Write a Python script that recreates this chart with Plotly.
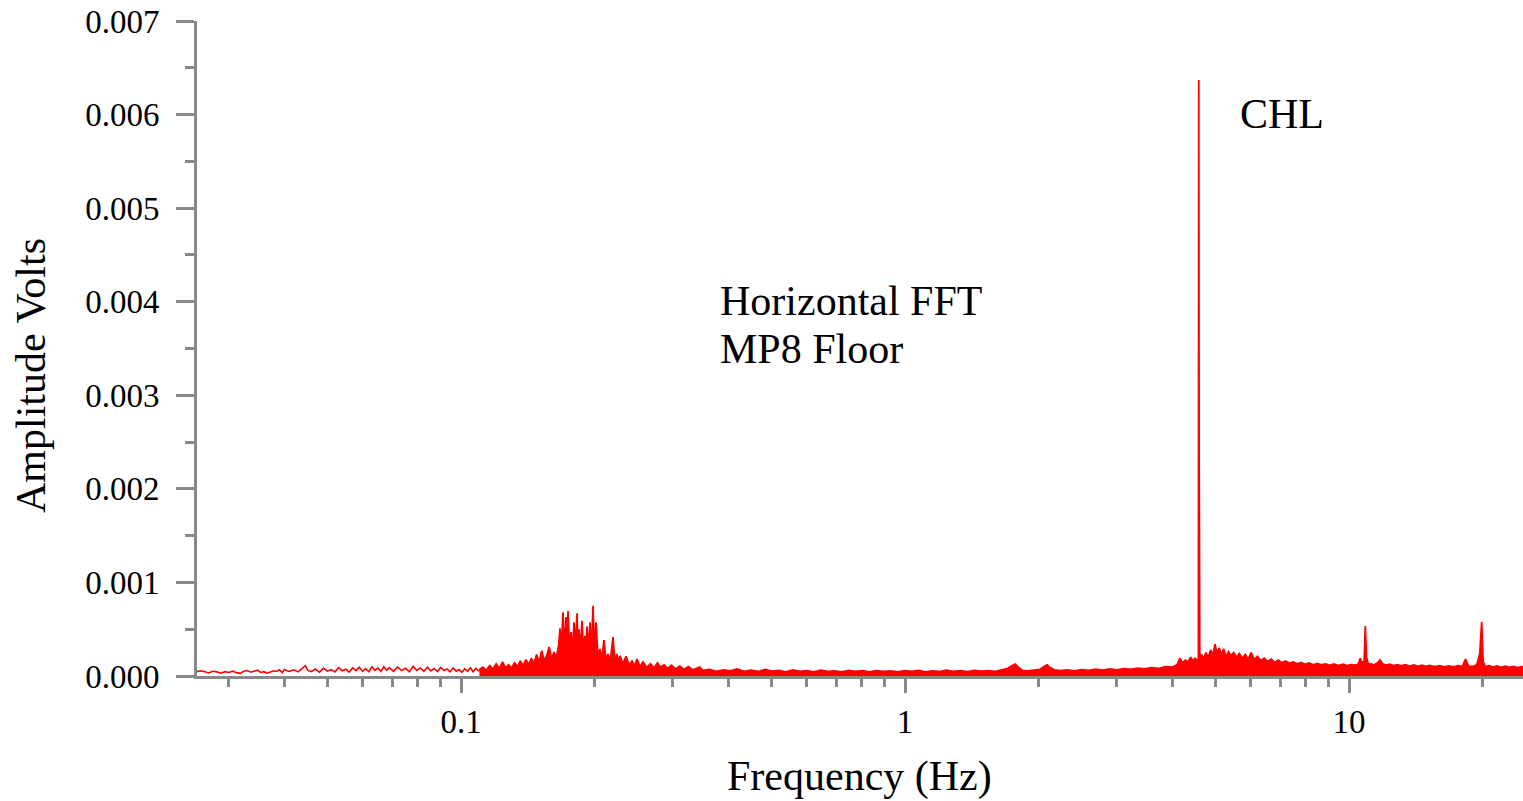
import plotly.graph_objects as go

# ---------------- data (amplitudes in microvolts) ----------------
low_freq = [0.0252, 0.0258, 0.0264, 0.0270, 0.0276, 0.0282, 0.0288, 0.0294, 0.0300, 0.0306,
            0.0312, 0.0318, 0.0324, 0.0330, 0.0336, 0.0342, 0.0348, 0.0354, 0.0360, 0.0366,
            0.0372, 0.0378, 0.0384, 0.0390, 0.0396,
            0.0400, 0.0410, 0.0420, 0.0430, 0.0440, 0.0446, 0.0452, 0.0460, 0.0470, 0.0480,
            0.0490, 0.0500, 0.0510, 0.0520, 0.0530, 0.0540, 0.0550, 0.0560, 0.0570, 0.0580,
            0.0590, 0.0600, 0.0610, 0.0620, 0.0630, 0.0640, 0.0650, 0.0660, 0.0670, 0.0680,
            0.0690,
            0.0705, 0.0720, 0.0735, 0.0750, 0.0765, 0.0780, 0.0795, 0.0810, 0.0825, 0.0840,
            0.0855, 0.0870, 0.0885, 0.0900, 0.0915, 0.0930, 0.0945, 0.0960, 0.0975, 0.0990,
            0.1005, 0.1020, 0.1035, 0.1050, 0.1065, 0.1080, 0.1095, 0.1110]
low_amp_uv = [40, 55, 48, 32, 50, 44, 30, 46, 38, 52,
              36, 28, 50, 58, 40, 55, 62, 38, 46, 30,
              42, 56, 48, 66, 36,
              70, 48, 66, 44, 82, 110, 60, 46, 74, 40,
              84, 52, 68, 44, 90, 56, 72, 42, 86, 58,
              95, 50, 78, 45, 98, 60, 84, 48, 100, 62,
              88,
              50, 96, 58, 82, 45, 104, 60, 86, 50, 95,
              55, 80, 48, 92, 58, 75, 44, 85, 52, 70,
              40, 78, 50, 88, 45, 82, 55, 70]

band_freq = [0.110, 0.112, 0.114, 0.116, 0.118, 0.120, 0.122, 0.124, 0.126, 0.128,
             0.130, 0.132, 0.134, 0.136, 0.138, 0.140, 0.142, 0.144, 0.146, 0.148,
             0.150, 0.152, 0.154, 0.156, 0.158, 0.160, 0.162, 0.164, 0.166, 0.1671,
             0.168, 0.1697, 0.171, 0.1724, 0.1733, 0.1742, 0.1755, 0.1769, 0.1783, 0.1797,
             0.1811, 0.1825, 0.1834, 0.1844, 0.1858, 0.1873, 0.1887, 0.1902, 0.1912, 0.1922,
             0.1937, 0.1952, 0.1967, 0.1983, 0.1998, 0.2014, 0.2035, 0.2056, 0.2077, 0.2099,
             0.2120, 0.2143, 0.2170, 0.2199, 0.2222, 0.2245, 0.2263, 0.2281, 0.2317, 0.2353,
             0.2390, 0.2427, 0.2460, 0.2491, 0.2530, 0.2570, 0.262, 0.267, 0.272, 0.277,
             0.281, 0.287, 0.292, 0.298, 0.304, 0.311, 0.318, 0.325, 0.333, 0.345,
             0.350, 0.363, 0.376, 0.390, 0.404, 0.419, 0.434, 0.450, 0.467, 0.484,
             0.502, 0.520, 0.539, 0.559, 0.580, 0.601, 0.623, 0.646, 0.670, 0.695,
             0.720, 0.747, 0.774, 0.803, 0.832, 0.863, 0.895, 0.928, 0.962, 0.997,
             1.034, 1.072, 1.112, 1.153, 1.195, 1.239, 1.285, 1.332, 1.381, 1.432,
             1.485, 1.540, 1.597, 1.656, 1.700, 1.740, 1.770, 1.800, 1.840, 1.890,
             1.950, 2.010, 2.060, 2.090, 2.120, 2.170, 2.240, 2.320, 2.410, 2.500,
             2.590, 2.690, 2.790, 2.890, 3.000, 3.110, 3.220, 3.340, 3.460, 3.590,
             3.720, 3.860, 4.000, 4.100, 4.160, 4.220, 4.280, 4.340, 4.400, 4.450,
             4.500, 4.550, 4.580, 4.588, 4.596, 4.603, 4.612,
             4.650, 4.700, 4.760, 4.820, 4.880, 4.940, 4.990, 5.040, 5.100, 5.160,
             5.220, 5.280, 5.350, 5.420, 5.500, 5.580, 5.660, 5.750, 5.840, 5.930,
             6.020, 6.120, 6.220, 6.330, 6.440, 6.560, 6.680, 6.800, 6.930, 7.060,
             7.200, 7.340, 7.490, 7.640, 7.800, 7.960, 8.130, 8.300, 8.480, 8.660,
             8.850, 9.050, 9.250, 9.460, 9.680, 9.900, 10.10, 10.30, 10.50, 10.60,
             10.70, 10.82, 10.88, 10.95, 11.05, 11.20, 11.40, 11.60, 11.75, 11.90,
             12.10, 12.35, 12.60, 12.85, 13.10, 13.40, 13.70, 14.00, 14.30, 14.60,
             14.90, 15.20, 15.60, 16.00, 16.40, 16.80, 17.20, 17.60, 18.00, 18.30,
             18.60, 19.00, 19.40, 19.70, 19.90, 20.05, 20.30, 20.70, 21.10, 21.50,
             22.00, 22.50, 23.00, 23.50, 24.00, 24.50, 25.00]
band_amp_uv = [70, 95, 60, 110, 75, 130, 80, 150, 90, 120,
               85, 140, 100, 160, 110, 175, 120, 190, 130, 230,
               150, 270, 160, 220, 310, 180, 255, 200, 330, 510,
               220, 680, 250, 630, 300, 695, 280, 470, 260, 575,
               290, 670, 300, 500, 270, 590, 250, 430, 240, 530,
               260, 575, 230, 750, 240, 575, 200, 290, 180, 385,
               170, 235, 160, 415, 150, 235, 140, 215, 130, 210,
               120, 160, 110, 180, 100, 150, 90, 130, 85, 140,
               95, 120, 80, 115, 75, 105, 70, 100, 65, 95,
               60, 70, 50, 65, 55, 75, 50, 62, 48, 70,
               52, 60, 45, 65, 50, 58, 45, 62, 50, 55,
               45, 60, 48, 56, 45, 58, 48, 55, 45, 58,
               48, 60, 45, 55, 48, 62, 50, 58, 47, 60,
               52, 58, 50, 65, 80, 110, 128, 95, 60, 55,
               62, 70, 105, 120, 90, 65, 58, 65, 55, 68,
               60, 72, 62, 75, 65, 78, 70, 85, 75, 90,
               80, 100, 95, 120, 190, 140, 170, 150, 200, 160,
               190, 170, 180, 6370, 2320, 1570, 200,
               230, 180, 250, 200, 280, 220, 340, 250, 300, 230,
               290, 210, 260, 220, 250, 200, 240, 190, 230, 180,
               250, 175, 210, 165, 190, 155, 180, 145, 170, 140,
               160, 135, 150, 130, 145, 125, 140, 120, 135, 118,
               130, 115, 128, 112, 125, 110, 122, 115, 130, 190,
               140, 160, 534, 200, 125, 130, 120, 140, 170, 130,
               115, 125, 110, 122, 108, 120, 105, 118, 104, 115,
               102, 112, 100, 110, 98, 108, 97, 110, 100, 180,
               105, 100, 120, 235, 576, 150, 100, 110, 95, 108,
               93, 105, 92, 103, 90, 100, 95]

y_ticks = [0.000, 0.001, 0.002, 0.003, 0.004, 0.005, 0.006, 0.007]
x_ticks = [0.1, 1, 10]
x_tick_labels = ["0.1", "1", "10"]
x_minor = [0.03, 0.04, 0.05, 0.06, 0.07, 0.08, 0.09,
           0.2, 0.3, 0.4, 0.5, 0.6, 0.7, 0.8, 0.9,
           2, 3, 4, 5, 6, 7, 8, 9, 20]

UV = 1e-6
low_amp = [v * UV for v in low_amp_uv]
band_amp = [v * UV for v in band_amp_uv]

RED = "#ff0000"
GREY = "#888888"
FONT = "Liberation Serif"
TICK_SIZE = 33
TEXT_SIZE = 42

fig = go.Figure()
fig.add_trace(go.Scatter(x=low_freq, y=low_amp, mode="lines",
                         line=dict(color=RED, width=1.6), hoverinfo="skip"))
fig.add_trace(go.Scatter(x=band_freq, y=band_amp, mode="lines",
                         line=dict(color=RED, width=1.8), fill="tozeroy",
                         fillcolor=RED, hoverinfo="skip"))

W, H = 1523, 801
L, R, T, B = 197, 0, 21, 125
pw, ph = W - L - R, H - T - B


def px(xp):
    return (xp - L) / pw


def py(yp):
    return (H - B - yp) / ph


fig.update_layout(
    width=W, height=H,
    margin=dict(l=L, r=R, t=T, b=B, pad=0),
    paper_bgcolor="white", plot_bgcolor="white",
    showlegend=False,
    font=dict(family=FONT, size=TICK_SIZE, color="black"),
    xaxis=dict(
        type="log", range=[-1.5946, 1.3919],
        tickmode="array", tickvals=x_ticks, ticktext=x_tick_labels,
        ticks="outside", ticklen=14, tickwidth=3, tickcolor=GREY,
        showline=True, linewidth=3, linecolor=GREY,
        showgrid=False, zeroline=False,
        tickfont=dict(family=FONT, size=TICK_SIZE, color="black"),
        minor=dict(tickmode="array", tickvals=x_minor, ticks="outside",
                   ticklen=8, tickwidth=3, tickcolor=GREY, showgrid=False),
    ),
    yaxis=dict(
        range=[0, 0.007],
        tickmode="array", tickvals=y_ticks,
        ticktext=[f"{v:.3f}" for v in y_ticks],
        ticks="outside", ticklen=18, tickwidth=3, tickcolor=GREY,
        showline=True, linewidth=3, linecolor=GREY,
        showgrid=False, zeroline=False,
        ticklabelstandoff=10,
        tickfont=dict(family=FONT, size=TICK_SIZE, color="black"),
        minor=dict(dtick=0.0005, ticks="outside", ticklen=9, tickwidth=3,
                   tickcolor=GREY, showgrid=False),
    ),
)

ann_font = dict(family=FONT, size=TEXT_SIZE, color="black")
fig.add_annotation(text="Frequency (Hz)", xref="paper", yref="paper",
                   x=px(859), y=py(776), xanchor="center", yanchor="middle",
                   showarrow=False, font=ann_font)
fig.add_annotation(text="Amplitude Volts", xref="paper", yref="paper",
                   x=px(31), y=py(376), xanchor="center", yanchor="middle",
                   textangle=-90, showarrow=False, font=ann_font)
fig.add_annotation(text="Horizontal FFT", xref="paper", yref="paper",
                   x=px(718), y=py(301), xanchor="left", yanchor="middle",
                   showarrow=False, font=ann_font)
fig.add_annotation(text="MP8 Floor", xref="paper", yref="paper",
                   x=px(718), y=py(349), xanchor="left", yanchor="middle",
                   showarrow=False, font=ann_font)
fig.add_annotation(text="CHL", xref="paper", yref="paper",
                   x=px(1238), y=py(114), xanchor="left", yanchor="middle",
                   showarrow=False, font=ann_font)

fig.write_html("out.html")
